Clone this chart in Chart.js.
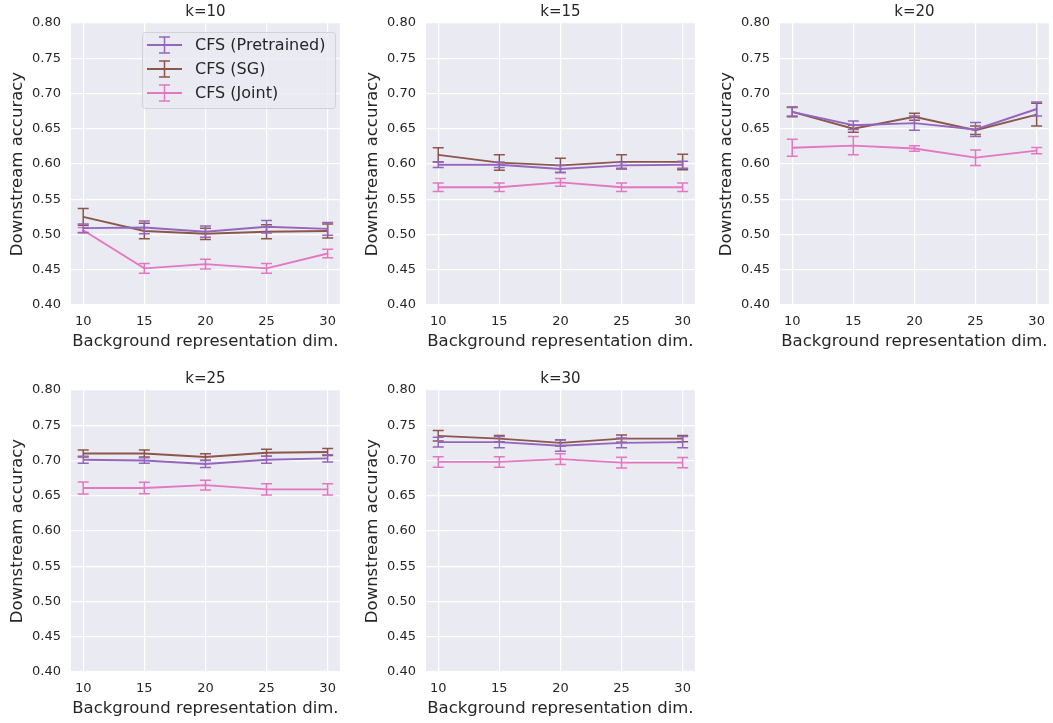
<!DOCTYPE html>
<html>
<head>
<meta charset="utf-8">
<script src="https://cdn.jsdelivr.net/npm/chart.js@4.4.1/dist/chart.umd.min.js"></script>
<style>
  body { margin: 0; background: #fff; width: 1053px; height: 723px; overflow: hidden; position: relative; }
  canvas { position: absolute; }
</style>
</head>
<body>
<canvas id="c10" width="345" height="356" style="left:0px;top:0px"></canvas>
<canvas id="c15" width="345" height="356" style="left:355px;top:0px"></canvas>
<canvas id="c20" width="345" height="356" style="left:709px;top:0px"></canvas>
<canvas id="c25" width="345" height="356" style="left:0px;top:367px"></canvas>
<canvas id="c30" width="345" height="356" style="left:355px;top:367px"></canvas>
<script>
// data
const dims = [10, 15, 20, 25, 30];
const yTicks = [0.40, 0.45, 0.50, 0.55, 0.60, 0.65, 0.70, 0.75, 0.80];
const kTitles = ["k=10", "k=15", "k=20", "k=25", "k=30"];
const seriesNames = ["CFS (Pretrained)", "CFS (SG)", "CFS (Joint)"];

const pretrainedMean = [
  [0.509, 0.510, 0.504, 0.511, 0.508],
  [0.599, 0.599, 0.593, 0.598, 0.599],
  [0.674, 0.655, 0.658, 0.649, 0.678],
  [0.701, 0.700, 0.695, 0.701, 0.703],
  [0.726, 0.726, 0.721, 0.725, 0.726],
];
const pretrainedErr = [
  [0.006, 0.009, 0.008, 0.009, 0.009],
  [0.004, 0.004, 0.005, 0.004, 0.005],
  [0.006, 0.006, 0.010, 0.010, 0.010],
  [0.005, 0.004, 0.005, 0.005, 0.005],
  [0.007, 0.008, 0.008, 0.007, 0.008],
];
const sgMean = [
  [0.525, 0.505, 0.501, 0.504, 0.505],
  [0.613, 0.602, 0.598, 0.603, 0.603],
  [0.674, 0.650, 0.667, 0.648, 0.670],
  [0.710, 0.710, 0.705, 0.711, 0.712],
  [0.735, 0.731, 0.725, 0.731, 0.731],
];
const sgErr = [
  [0.012, 0.011, 0.008, 0.010, 0.010],
  [0.010, 0.011, 0.010, 0.010, 0.011],
  [0.007, 0.005, 0.005, 0.006, 0.016],
  [0.005, 0.005, 0.0045, 0.005, 0.005],
  [0.0075, 0.0045, 0.0045, 0.005, 0.0045],
];
const jointMean = [
  [0.506, 0.452, 0.458, 0.452, 0.473],
  [0.567, 0.567, 0.574, 0.567, 0.567],
  [0.623, 0.626, 0.622, 0.609, 0.619],
  [0.661, 0.661, 0.665, 0.659, 0.659],
  [0.698, 0.698, 0.702, 0.697, 0.697],
];
const jointErr = [
  [0.004, 0.007, 0.007, 0.007, 0.006],
  [0.006, 0.006, 0.0055, 0.006, 0.006],
  [0.012, 0.013, 0.004, 0.011, 0.0045],
  [0.0085, 0.008, 0.007, 0.008, 0.008],
  [0.0074, 0.0074, 0.0076, 0.0076, 0.0074],
];

const colors = ["#9467bd", "#8c564b", "#e377c2"];
const FONT = "'DejaVu Sans', sans-serif";
const TXT = "#262626";

// grey axes background + centred title
const panelBg = {
  id: "panelBg",
  beforeDraw(chart, args, opts) {
    const { ctx, chartArea: a } = chart;
    ctx.save();
    ctx.fillStyle = "#eaeaf2";
    ctx.fillRect(a.left, a.top, a.right - a.left, a.bottom - a.top);
    ctx.fillStyle = TXT;
    ctx.font = "15px " + FONT;
    ctx.textAlign = "center";
    ctx.textBaseline = "middle";
    ctx.fillText(opts.title, (a.left + a.right) / 2, 12);
    ctx.restore();
  },
};

// error bars, drawn under each dataset's line
const errorBars = {
  id: "errorBars",
  beforeDatasetDraw(chart, args) {
    const ds = chart.data.datasets[args.index];
    if (!ds.errors) return;
    const { ctx } = chart;
    const xs = chart.scales.x, ys = chart.scales.y;
    ctx.save();
    ctx.strokeStyle = ds.borderColor;
    ctx.lineWidth = 1.5;
    ds.data.forEach((p, i) => {
      const px = xs.getPixelForValue(p.x);
      const top = ys.getPixelForValue(p.y + ds.errors[i]);
      const bot = ys.getPixelForValue(p.y - ds.errors[i]);
      ctx.beginPath();
      ctx.moveTo(px, top); ctx.lineTo(px, bot);
      ctx.moveTo(px - 5.5, top); ctx.lineTo(px + 5.5, top);
      ctx.moveTo(px - 5.5, bot); ctx.lineTo(px + 5.5, bot);
      ctx.stroke();
    });
    ctx.restore();
  },
};

// matplotlib style legend with errorbar handles
const boxLegend = {
  id: "boxLegend",
  afterDraw(chart, args, opts) {
    if (!opts.show) return;
    const { ctx } = chart;
    const x = 142, y = 32, w = 193, h = 76, r = 3;
    ctx.save();
    ctx.beginPath();
    ctx.roundRect(x + 0.5, y + 0.5, w, h, r);
    ctx.fillStyle = "rgba(234,234,242,0.8)";
    ctx.fill();
    ctx.strokeStyle = "rgba(204,204,204,0.8)";
    ctx.lineWidth = 1;
    ctx.stroke();
    chart.data.datasets.forEach((ds, i) => {
      const cy = 45 + i * 24;
      ctx.strokeStyle = ds.borderColor;
      ctx.lineWidth = 1.8;
      ctx.beginPath();
      ctx.moveTo(147, cy); ctx.lineTo(182, cy);
      ctx.stroke();
      ctx.lineWidth = 1.5;
      ctx.beginPath();
      ctx.moveTo(164.5, cy - 8); ctx.lineTo(164.5, cy + 8);
      ctx.moveTo(159, cy - 8); ctx.lineTo(170, cy - 8);
      ctx.moveTo(159, cy + 8); ctx.lineTo(170, cy + 8);
      ctx.stroke();
      ctx.fillStyle = TXT;
      ctx.font = "16px " + FONT;
      ctx.textAlign = "left";
      ctx.textBaseline = "middle";
      ctx.fillText(ds.label, 195, cy + 1);
    });
    ctx.restore();
  },
};

function makePanel(id, k) {
  const means = [pretrainedMean[k], sgMean[k], jointMean[k]];
  const errs = [pretrainedErr[k], sgErr[k], jointErr[k]];
  new Chart(document.getElementById(id), {
    type: "line",
    data: {
      datasets: seriesNames.map((name, s) => ({
        label: name,
        data: dims.map((d, i) => ({ x: d, y: means[s][i] })),
        errors: errs[s],
        borderColor: colors[s],
        borderWidth: 1.9,
        pointRadius: 0,
        tension: 0,
        fill: false,
      })),
    },
    plugins: [panelBg, errorBars, boxLegend],
    options: {
      responsive: false,
      animation: false,
      layout: { padding: { top: 23, left: 0, right: 2, bottom: 0 } },
      plugins: {
        legend: { display: false },
        tooltip: { enabled: false },
        panelBg: { title: kTitles[k] },
        boxLegend: { show: k === 0 },
      },
      scales: {
        x: {
          type: "linear",
          min: 9, max: 31,
          afterBuildTicks: (s) => { s.ticks = dims.map((v) => ({ value: v })); },
          afterFit: (s) => { s.height = 51; },
          ticks: { color: TXT, font: { family: FONT, size: 13 }, padding: 9 },
          grid: { color: "#ffffff", lineWidth: 1.2, drawTicks: false },
          border: { display: false },
          title: {
            display: true, text: "Background representation dim.",
            color: TXT, font: { family: FONT, size: 16.5 }, padding: { top: 0, bottom: 4 },
          },
        },
        y: {
          min: 0.4, max: 0.8,
          afterBuildTicks: (s) => { s.ticks = yTicks.map((v) => ({ value: v })); },
          afterFit: (s) => { s.width = 71; },
          ticks: { color: TXT, font: { family: FONT, size: 13 }, padding: 10, callback: (v) => v.toFixed(2) },
          grid: { color: "#ffffff", lineWidth: 1.2, drawTicks: false },
          border: { display: false },
          title: {
            display: true, text: "Downstream accuracy",
            color: TXT, font: { family: FONT, size: 16.5 }, padding: { top: 8, bottom: 0 },
          },
        },
      },
    },
  });
}

["c10", "c15", "c20", "c25", "c30"].forEach((id, k) => makePanel(id, k));
</script>
</body>
</html>
